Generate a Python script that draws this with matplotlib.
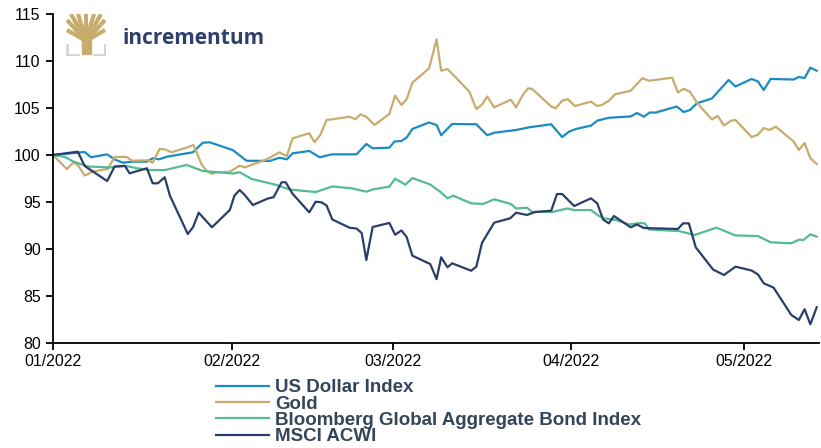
import matplotlib
matplotlib.use("Agg")
import matplotlib.pyplot as plt
import matplotlib.dates as mdates
import numpy as np
import datetime as dt

plt.rcParams['font.family'] = ['Liberation Sans', 'DejaVu Sans']

# ---- data: day offsets since 2022-01-01 and index values (start = 100) ----
usd_days = [0, 4.2, 5.5, 6.6, 9.4, 10.7, 12.1, 13.7, 16.3, 17.3, 18.4, 19.8, 24.3, 26.0, 27.2,
            31.2, 33.6, 37.6, 39.3, 40.6, 41.6, 44.5, 46.3, 48.4, 52.7, 54.4, 55.5, 58.4, 59.3,
            60.5, 61.4, 62.4, 65.3, 66.6, 67.4, 69.3, 73.5, 75.4, 76.6, 80.4, 82.7, 86.5, 88.4,
            89.6, 90.8, 93.4, 94.5, 96.5, 100.3, 101.4, 102.6, 103.6, 104.7, 108.3, 109.5, 110.6,
            111.8, 114.4, 117.3, 118.5, 121.3, 122.4, 123.4, 124.6, 128.6, 129.5, 130.5, 131.5, 132.6]
usd_vals = [100.0, 100.24, 100.32, 99.76, 100.07, 99.54, 99.18, 99.29, 99.29, 99.65, 99.54, 99.82,
            100.29, 101.31, 101.35, 100.53, 99.39, 99.36, 99.71, 99.54, 100.18, 100.43, 99.76,
            100.07, 100.07, 101.17, 100.71, 100.78, 101.44, 101.49, 101.86, 102.77, 103.46, 103.19,
            102.10, 103.30, 103.27, 102.10, 102.37, 102.66, 102.95, 103.27, 101.91, 102.48, 102.77,
            103.12, 103.65, 103.96, 104.10, 104.47, 104.07, 104.52, 104.52, 105.16, 104.57, 104.79,
            105.50, 106.01, 107.98, 107.29, 108.09, 107.82, 106.91, 108.09, 108.03, 108.30, 108.19,
            109.29, 108.96]

gold_days = [0, 2.4, 3.5, 4.3, 5.5, 6.9, 9.5, 10.7, 12.8, 13.7, 16.5, 17.3, 18.5, 19.4, 20.6, 23.2,
             24.4, 25.8, 26.7, 27.6, 28.4, 30.7, 32.4, 33.3, 37.1, 39.3, 40.6, 41.6, 44.5, 45.4,
             46.4, 47.5, 48.9, 51.5, 52.5, 53.4, 54.4, 55.8, 58.4, 59.4, 60.5, 61.4, 62.4, 65.3,
             66.6, 67.4, 68.5, 72.3, 73.5, 74.5, 75.4, 76.6, 79.5, 80.4, 81.6, 82.5, 83.2, 86.5,
             87.3, 88.4, 89.4, 90.6, 93.4, 94.5, 95.3, 96.5, 97.6, 100.3, 102.3, 103.5, 107.5,
             108.5, 109.5, 110.6, 111.8, 114.4, 115.4, 116.5, 117.7, 118.5, 121.3, 122.4, 123.4,
             124.4, 125.5, 128.6, 129.5, 130.5, 131.5, 132.6]
gold_vals = [100.0, 98.51, 99.18, 98.94, 97.82, 98.24, 98.51, 99.79, 99.79, 99.39, 99.44, 99.18,
             100.64, 100.61, 100.29, 100.78, 101.06, 98.99, 98.30, 97.98, 98.16, 98.22, 98.86,
             98.69, 99.54, 100.27, 99.89, 101.78, 102.31, 101.35, 102.13, 103.72, 103.83, 104.07,
             103.80, 104.33, 104.07, 103.19, 104.36, 106.31, 105.32, 105.93, 107.69, 109.22,
             112.29, 108.97, 109.15, 106.73, 104.89, 105.37, 106.22, 105.07, 105.88, 105.07,
             106.41, 107.10, 107.02, 105.16, 104.97, 105.77, 105.94, 105.21, 105.67, 105.21,
             105.32, 105.77, 106.46, 106.83, 108.16, 107.90, 108.22, 106.65, 107.04, 106.73,
             105.56, 103.78, 104.17, 103.14, 103.64, 103.72, 101.91, 102.16, 102.87, 102.66,
             103.01, 101.44, 100.53, 101.28, 99.65, 99.04]

bond_days = [0, 2.1, 3.5, 6.1, 9.9, 12.5, 14.6, 16.8, 19.4, 23.2, 26.0, 31.2, 32.4, 34.5, 38.5,
             41.1, 45.6, 48.5, 51.8, 54.4, 55.6, 58.4, 59.4, 61.2, 62.4, 65.5, 67.2, 68.5, 69.5,
             72.6, 74.7, 76.6, 79.5, 80.4, 82.3, 83.2, 86.7, 89.3, 90.6, 93.4, 94.8, 95.7, 97.7,
             100.0, 102.1, 102.8, 103.5, 108.7, 111.4, 115.2, 118.5, 122.4, 124.6, 128.2, 129.5,
             130.3, 131.5, 132.6]
bond_vals = [100.0, 99.79, 99.31, 98.78, 98.67, 98.86, 98.59, 98.40, 98.40, 98.94, 98.30, 98.03,
             98.16, 97.45, 96.86, 96.33, 96.06, 96.65, 96.46, 96.10, 96.35, 96.63, 97.48, 96.84,
             97.55, 96.86, 96.10, 95.39, 95.67, 94.86, 94.79, 95.29, 94.79, 94.31, 94.39, 93.94,
             93.94, 94.31, 94.13, 94.15, 93.51, 93.27, 93.09, 92.61, 92.77, 92.71, 92.07, 91.91,
             91.49, 92.27, 91.44, 91.38, 90.71, 90.61, 90.99, 90.96, 91.56, 91.31]

msci_days = [0, 4.3, 5.5, 9.4, 10.7, 12.5, 13.3, 16.3, 17.3, 18.2, 19.4, 20.3, 23.4, 24.3, 25.3,
             27.6, 30.7, 31.5, 32.4, 33.3, 34.7, 37.3, 38.3, 39.7, 40.4, 41.6, 44.5, 45.6, 46.6,
             47.5, 48.5, 51.5, 52.7, 53.6, 54.4, 55.5, 58.4, 59.4, 60.5, 61.4, 62.4, 65.5, 66.6,
             67.4, 68.5, 69.3, 72.6, 73.5, 74.5, 76.6, 79.4, 80.4, 82.3, 83.7, 86.5, 87.5, 88.4,
             90.5, 93.4, 94.5, 95.5, 96.5, 97.4, 100.3, 101.4, 102.6, 108.5, 109.4, 110.4, 111.6,
             114.6, 116.5, 118.5, 121.3, 122.4, 123.4, 125.1, 128.2, 129.5, 130.5, 131.5, 132.6]
msci_vals = [100.0, 100.35, 98.83, 97.23, 98.78, 98.83, 98.05, 98.59, 96.99, 96.99, 97.63, 95.67,
             91.60, 92.31, 93.86, 92.31, 94.15, 95.67, 96.28, 95.74, 94.68, 95.37, 95.51, 97.10,
             97.10, 95.87, 93.90, 95.03, 94.97, 94.63, 93.14, 92.26, 92.18, 91.70, 88.83, 92.34,
             92.77, 91.52, 91.97, 91.28, 89.29, 88.40, 86.79, 89.12, 88.05, 88.48, 87.69, 88.12,
             90.67, 92.80, 93.27, 93.86, 93.62, 93.94, 94.07, 95.85, 95.85, 94.57, 95.39, 94.86,
             93.14, 92.73, 93.51, 92.31, 92.61, 92.23, 92.13, 92.73, 92.73, 90.18, 87.82, 87.23,
             88.12, 87.71, 87.29, 86.35, 85.90, 82.98, 82.45, 83.59, 81.99, 83.80]

labels = ["US Dollar Index", "Gold", "Bloomberg Global Aggregate Bond Index", "MSCI ACWI"]
colors = ["#1b8bc4", "#c8ac6d", "#57b995", "#2b3d6b"]

base = mdates.date2num(dt.datetime(2022, 1, 1))

fig = plt.figure(figsize=(8.21, 4.48), dpi=100)
ax = fig.add_axes([53/821, 1-343/448, (819-53)/821, (343-14)/448])

series = [(usd_days, usd_vals), (gold_days, gold_vals), (bond_days, bond_vals), (msci_days, msci_vals)]
for (d, v), lab, c in zip(series, labels, colors):
    ax.plot(base + np.array(d), v, color=c, lw=1.6, label=lab, solid_joinstyle='round')

ax.set_ylim(80, 115)
ax.set_yticks(range(80, 116, 5))
ax.set_xlim(base, base + 133)
ax.xaxis.set_major_locator(mdates.MonthLocator())
ax.xaxis.set_major_formatter(mdates.DateFormatter('%m/%Y'))
for s in ['top', 'right']:
    ax.spines[s].set_visible(False)
for s in ['left', 'bottom']:
    ax.spines[s].set_linewidth(1.3)
    ax.spines[s].set_color('black')
ax.tick_params(axis='both', labelsize=11.4, length=5, width=1.3, colors='black', pad=3)
ax.tick_params(axis='y', pad=4)

leg = fig.legend(loc='upper left', bbox_to_anchor=(207/821, 1-370/448), frameon=False,
                 handlelength=2.8, handletextpad=0.33, labelspacing=-0.05, borderpad=0,
                 prop={'size': 13.5, 'weight': 'bold'})
for t in leg.get_texts():
    t.set_color('#34445a')

# logo
fig.text(122/821, 1-44/448, "incrementum", fontsize=15, color='#2e3f6e', fontweight='bold',
         family=['Open Sans', 'DejaVu Sans'], ha='left', va='baseline')
lax = fig.add_axes([66/821, 1-56/448, 40/821, 42/448])
lax.set_xlim(0, 40); lax.set_ylim(0, 42); lax.axis('off')
gold = '#c8ac6d'
lax.fill([15.5, 24.5, 24.5, 15.5], [2, 2, 20, 20], color=gold)
ends = [(1, 26), (1, 36), (5, 42), (12, 42), (20, 42), (28, 42), (35, 42), (39, 36), (39, 26)]
for ex, ey in ends:
    lax.plot([20, ex], [15, ey], color=gold, lw=3.0, solid_capstyle='butt')
lax.plot([1, 1, 12], [11, 1, 1], color='#d0d0d0', lw=1.8)
lax.plot([28, 39, 39], [1, 1, 11], color='#d0d0d0', lw=1.8)

fig.savefig("out.png", dpi=100)
